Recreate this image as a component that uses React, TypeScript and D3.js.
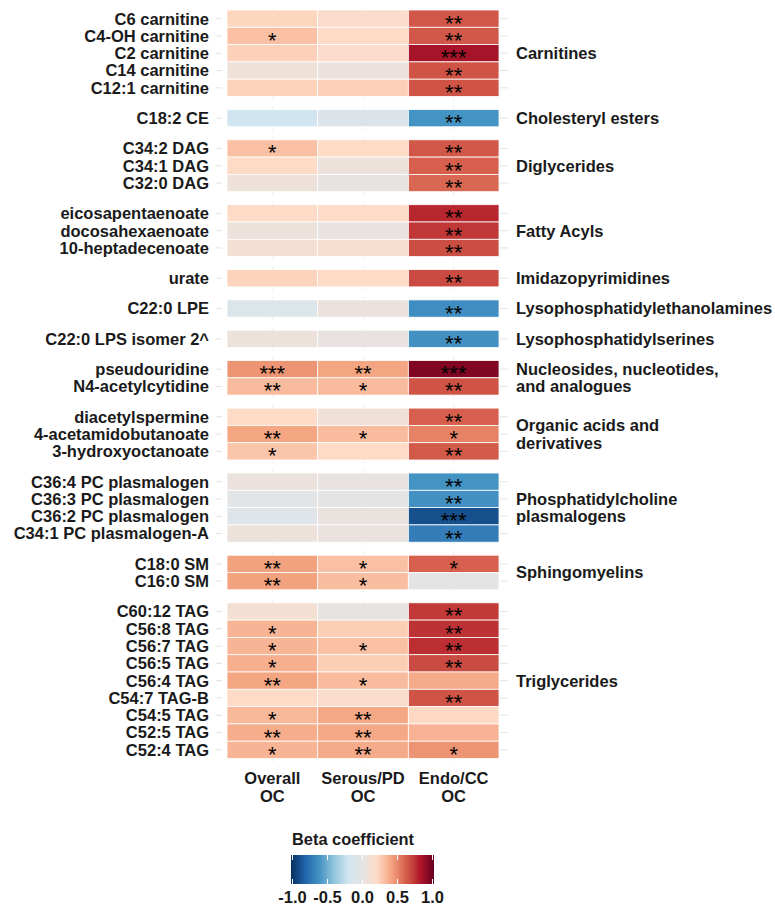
import React from "react";
import * as d3 from "d3";

// Metabolites, top to bottom, with the class each belongs to
const metabolites = [
  "C6 carnitine", "C4-OH carnitine", "C2 carnitine", "C14 carnitine", "C12:1 carnitine",
  "C18:2 CE",
  "C34:2 DAG", "C34:1 DAG", "C32:0 DAG",
  "eicosapentaenoate", "docosahexaenoate", "10-heptadecenoate",
  "urate",
  "C22:0 LPE",
  "C22:0 LPS isomer 2^",
  "pseudouridine", "N4-acetylcytidine",
  "diacetylspermine", "4-acetamidobutanoate", "3-hydroxyoctanoate",
  "C36:4 PC plasmalogen", "C36:3 PC plasmalogen", "C36:2 PC plasmalogen", "C34:1 PC plasmalogen-A",
  "C18:0 SM", "C16:0 SM",
  "C60:12 TAG", "C56:8 TAG", "C56:7 TAG", "C56:5 TAG", "C56:4 TAG", "C54:7 TAG-B", "C54:5 TAG", "C52:5 TAG", "C52:4 TAG",
];

const metaboliteClass = [
  "Carnitines", "Carnitines", "Carnitines", "Carnitines", "Carnitines",
  "Cholesteryl esters",
  "Diglycerides", "Diglycerides", "Diglycerides",
  "Fatty Acyls", "Fatty Acyls", "Fatty Acyls",
  "Imidazopyrimidines",
  "Lysophosphatidylethanolamines",
  "Lysophosphatidylserines",
  "Nucleosides, nucleotides,\nand analogues", "Nucleosides, nucleotides,\nand analogues",
  "Organic acids and\nderivatives", "Organic acids and\nderivatives", "Organic acids and\nderivatives",
  "Phosphatidylcholine\nplasmalogens", "Phosphatidylcholine\nplasmalogens", "Phosphatidylcholine\nplasmalogens", "Phosphatidylcholine\nplasmalogens",
  "Sphingomyelins", "Sphingomyelins",
  "Triglycerides", "Triglycerides", "Triglycerides", "Triglycerides", "Triglycerides", "Triglycerides", "Triglycerides", "Triglycerides", "Triglycerides",
];

const subtypes = ["Overall\nOC", "Serous/PD\nOC", "Endo/CC\nOC"];

// Beta coefficients per subtype
const overallBeta = [
  0.22, 0.30, 0.24, 0.08, 0.23,
  -0.2,
  0.30, 0.20, 0.07,
  0.20, 0.06, 0.12,
  0.23,
  -0.1,
  0.06,
  0.45, 0.32,
  0.20, 0.40, 0.28,
  0.05, -0.02, -0.07, 0.06,
  0.41, 0.41,
  0.12, 0.34, 0.34, 0.36, 0.40, 0.20, 0.33, 0.37, 0.34,
];
const serousBeta = [
  0.18, 0.20, 0.18, 0.05, 0.24,
  -0.08,
  0.20, 0.06, 0.02,
  0.19, 0.03, 0.15,
  0.20,
  0.05,
  0.03,
  0.40, 0.32,
  0.10, 0.32, 0.20,
  0.03, 0.0, 0.04, 0.04,
  0.30, 0.31,
  0.02, 0.25, 0.30, 0.25, 0.32, 0.17, 0.39, 0.39, 0.38,
];
const endoBeta = [
  0.63, 0.63, 0.83, 0.64, 0.64,
  -0.6,
  0.63, 0.60, 0.58,
  0.77, 0.73, 0.66,
  0.67,
  -0.62,
  -0.61,
  0.93, 0.64,
  0.60, 0.50, 0.62,
  -0.6, -0.61, -0.88, -0.7,
  0.60, 0.0,
  0.72, 0.74, 0.75, 0.67, 0.38, 0.64, 0.21, 0.35, 0.45,
];

// Significance markers per subtype
const overallStars = [
  "", "*", "", "", "",
  "",
  "*", "", "",
  "", "", "",
  "",
  "",
  "",
  "***", "**",
  "", "**", "*",
  "", "", "", "",
  "**", "**",
  "", "*", "*", "*", "**", "", "*", "**", "*",
];
const serousStars = [
  "", "", "", "", "",
  "",
  "", "", "",
  "", "", "",
  "",
  "",
  "",
  "**", "*",
  "", "*", "",
  "", "", "", "",
  "*", "*",
  "", "", "*", "", "*", "", "**", "**", "**",
];
const endoStars = [
  "**", "**", "***", "**", "**",
  "**",
  "**", "**", "**",
  "**", "**", "**",
  "**",
  "**",
  "**",
  "***", "**",
  "**", "*", "**",
  "**", "**", "***", "**",
  "*", "",
  "**", "**", "**", "**", "", "**", "", "", "*",
];

const legendTicks = [-1, -0.5, 0, 0.5, 1];

const betaBySubtype = [overallBeta, serousBeta, endoBeta];
const starsBySubtype = [overallStars, serousStars, endoStars];

const FONT = "'Liberation Sans', Arial, Helvetica, sans-serif";
const TEXT = "#1a1a1a";

const fill = d3
  .scaleLinear<string>()
  .domain([-1, -0.8, -0.6, -0.4, -0.2, 0, 0.2, 0.4, 0.6, 0.8, 1])
  .range([
    "#053061", "#2166AC", "#4393C3", "#92C5DE", "#D1E5F0", "#E4E4E4",
    "#FDDBC7", "#F4A582", "#D6604D", "#B2182B", "#67001F",
  ])
  .interpolate(d3.interpolateLab)
  .clamp(true);

export default function App() {
  const width = 775;
  const height = 910;
  const top = 10;
  const rowH = 17.3;
  const gap = 13;

  // Panels: consecutive runs of the same class
  const panels: { name: string; rows: number[] }[] = [];
  metaboliteClass.forEach((c, i) => {
    const last = panels[panels.length - 1];
    if (last && last.name === c) last.rows.push(i);
    else panels.push({ name: c, rows: [i] });
  });

  let cursor = top;
  const panelLayout = panels.map((p) => {
    const y0 = cursor;
    const y1 = y0 + p.rows.length * rowH;
    cursor = y1 + gap;
    const y = d3
      .scaleBand<string>()
      .domain(p.rows.map((r) => metabolites[r]))
      .range([y0, y1])
      .padding(0);
    return { ...p, y0, y1, y };
  });

  const x = d3.scaleBand<string>().domain(subtypes).range([227, 499]).padding(0);
  const bottom = panelLayout[panelLayout.length - 1].y1;

  const legendX = d3.scaleLinear().domain([-1, 1]).range([292.5, 432.5]);
  const legendTop = 855;
  const legendBottom = 884;
  const gradStops = d3.range(0, 1.0001, 0.05);

  return (
    <svg
      width={width}
      height={height}
      style={{ position: "absolute", left: 0, top: 0, background: "#fff" }}
      fontFamily={FONT}
    >
      <defs>
        <linearGradient id="betaGradient" x1="0" x2="1" y1="0" y2="0">
          {gradStops.map((t) => (
            <stop key={t} offset={t} stopColor={fill(-1 + 2 * t)} />
          ))}
        </linearGradient>
      </defs>

      {panelLayout.map((p) => (
        <g key={p.name}>
          {/* faint grid marks */}
          {subtypes.map((s) => (
            <line
              key={s}
              x1={x(s)! + x.bandwidth() / 2}
              x2={x(s)! + x.bandwidth() / 2}
              y1={p.y0 - 3}
              y2={p.y1 + 3}
              stroke="#ececec"
              strokeWidth={1}
            />
          ))}
          {p.rows.map((r) => {
            const cy = p.y(metabolites[r])! + p.y.bandwidth() / 2;
            return (
              <g key={r}>
                <line x1={216} x2={222} y1={cy} y2={cy} stroke="#e3e3e3" strokeWidth={1} />
                <line x1={500} x2={508} y1={cy} y2={cy} stroke="#e3e3e3" strokeWidth={1} />
                <text
                  x={209}
                  y={cy}
                  dy="0.36em"
                  textAnchor="end"
                  fontSize={16.5}
                  fontWeight="bold"
                  fill={TEXT}
                >
                  {metabolites[r]}
                </text>
              </g>
            );
          })}
          {/* tiles */}
          {p.rows.map((r) =>
            subtypes.map((s, si) => (
              <rect
                key={`${r}-${si}`}
                x={x(s)!}
                y={p.y(metabolites[r])!}
                width={x.bandwidth()}
                height={p.y.bandwidth()}
                fill={fill(betaBySubtype[si][r])}
                stroke="#ffffff"
                strokeWidth={0.8}
              />
            ))
          )}
          {p.rows.map((r) =>
            subtypes.map((s, si) =>
              starsBySubtype[si][r] ? (
                <text
                  key={`s${r}-${si}`}
                  x={x(s)! + x.bandwidth() / 2}
                  y={p.y(metabolites[r])! + p.y.bandwidth() / 2 + 12}
                  textAnchor="middle"
                  fontSize={22}
                  fill="#000"
                >
                  {starsBySubtype[si][r]}
                </text>
              ) : null
            )
          )}
          {/* class label */}
          {(() => {
            const lines = p.name.split("\n");
            const mid = (p.y0 + p.y1) / 2;
            const lh = 17.5;
            return (
              <text
                x={516}
                y={mid - ((lines.length - 1) * lh) / 2}
                fontSize={16.5}
                fontWeight="bold"
                fill={TEXT}
              >
                {lines.map((l, i) => (
                  <tspan key={i} x={516} dy={i === 0 ? "0.36em" : lh}>
                    {l}
                  </tspan>
                ))}
              </text>
            );
          })()}
        </g>
      ))}

      {/* column labels */}
      {subtypes.map((s) => {
        const lines = s.split("\n");
        const cx = x(s)! + x.bandwidth() / 2;
        return (
          <text
            key={s}
            x={cx}
            y={bottom + 25}
            textAnchor="middle"
            fontSize={16.5}
            fontWeight="bold"
            fill={TEXT}
          >
            {lines.map((l, i) => (
              <tspan key={i} x={cx} dy={i === 0 ? 0 : 18}>
                {l}
              </tspan>
            ))}
          </text>
        );
      })}

      {/* legend */}
      <text x={292} y={845} fontSize={16.4} fontWeight="bold" fill={TEXT}>
        Beta coefficient
      </text>
      <rect
        x={legendX(-1) - 1.5}
        y={legendTop}
        width={legendX(1) - legendX(-1) + 3}
        height={legendBottom - legendTop}
        fill="url(#betaGradient)"
      />
      {legendTicks.map((t) => (
        <g key={t}>
          <line x1={legendX(t)} x2={legendX(t)} y1={legendTop} y2={legendTop + 5} stroke="#fff" strokeWidth={1} />
          <line x1={legendX(t)} x2={legendX(t)} y1={legendBottom - 5} y2={legendBottom} stroke="#fff" strokeWidth={1} />
          <text
            x={legendX(t)}
            y={903}
            textAnchor="middle"
            fontSize={16.5}
            fontWeight="bold"
            fill={TEXT}
          >
            {d3.format(".1f")(t).replace("−", "-")}
          </text>
        </g>
      ))}
    </svg>
  );
}
